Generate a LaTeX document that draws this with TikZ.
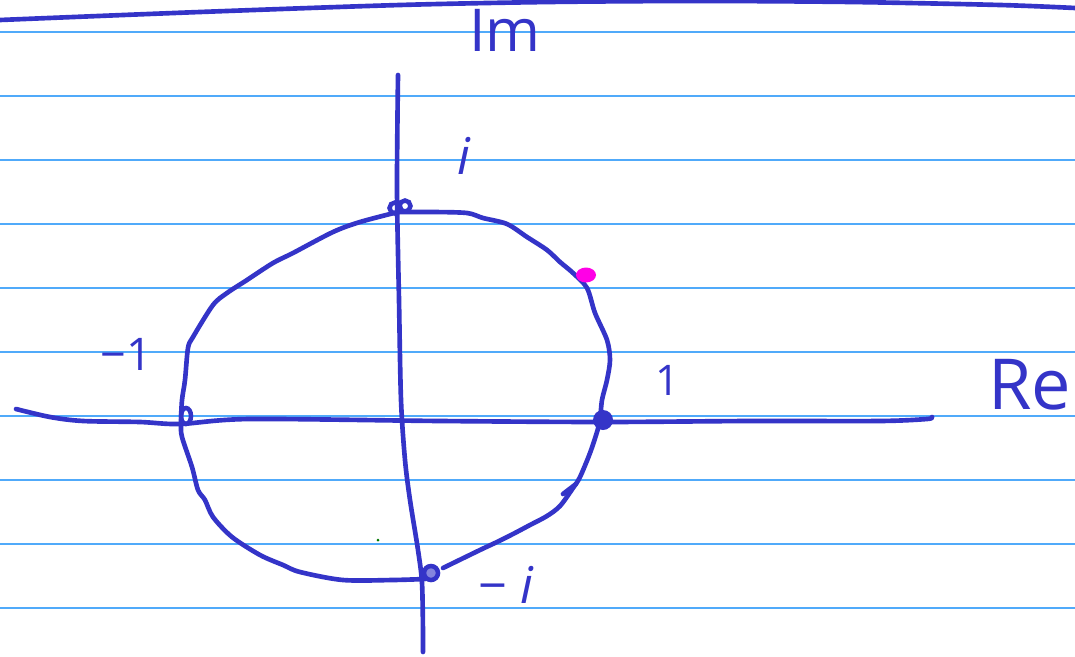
\documentclass[tikz,border=0pt]{standalone}
\usepackage{fontspec}
\setmainfont{Open Sans}
\usepackage{tikz}

\definecolor{pen}{RGB}{52,52,200}
\definecolor{ruling}{RGB}{80,170,250}
\definecolor{marker}{RGB}{255,0,230}
\definecolor{speck}{RGB}{0,120,0}

\begin{document}
\begin{tikzpicture}[
    x=0.025cm,
    y=-0.025cm,
    ruleline/.style={draw=ruling, line width=1.1pt},
    stroke/.style={draw=pen, line width=3.3pt, line cap=round, line join=round},
    loopmark/.style={draw=pen, line width=3.2pt},
    hand/.style={text=pen, inner sep=0pt, anchor=base}
  ]
    \fill[white] (0,0) rectangle (1075,656);
    \useasboundingbox (0,0) rectangle (1075,656);

    \foreach \y in {32,96,...,608} {
      \draw[ruleline] (0,\y) -- (1075,\y);
    }

    % margin stroke at the top
    \draw[stroke] plot[smooth] coordinates {(0,20) (200,12) (400,5) (550,2) (700,1) (850,2) (1000,5) (1075,8)};

    % axes
    \draw[stroke] plot[smooth] coordinates {(16,409) (50,417) (83,421) (140,422) (180,424) (250,419) (440,421) (603,422) (750,421) (880,421) (927,419) (932,417)};
    \draw[stroke] plot[smooth] coordinates {(398,75) (397,190) (399,300) (401,400) (405,460) (410,500) (418,550) (422,583) (423,633) (423,652)};

    % unit circle, drawn in two strokes
    \draw[stroke] plot[smooth] coordinates {(398,212) (433,212) (467,213) (483,218) (507,224) (527,237) (547,250) (560,262) (573,273) (587,288) (595,313) (607,340) (610,360) (607,380) (602,400) (600,420) (597,432) (590,453) (580,477) (573,488) (560,506) (547,516) (530,525) (513,534) (497,542) (480,550) (443,568)};
    \draw[stroke] (563,494) -- (576,484);
    \draw[stroke] plot[smooth] coordinates {(425,579) (393,580) (343,580) (300,572) (283,565) (260,555) (232,537) (213,517) (205,500) (198,490) (192,467) (182,437) (181,423) (182,400) (185,380) (188,348) (193,337) (213,305) (227,293) (247,280) (273,263) (293,253) (333,232) (360,222) (398,212)};

    % marked points
    \draw[loopmark] (395,208) circle [radius=5.5];
    \draw[loopmark] (405,206) circle [radius=5.5];
    \draw[loopmark] (186,416) ellipse [x radius=5, y radius=8];
    \draw[loopmark, fill=pen!60!white] (431,573) circle [radius=7];
    \fill[pen] (603,420) circle [radius=10];
    \fill[marker] (586,275) ellipse [x radius=10, y radius=7.5];
    \fill[speck] (378,540) circle [radius=1.5];

    % labels
    \node[hand, font=\fontsize{42}{42}\selectfont] (imlabel) at (505,52) {Im};
    \node[hand, anchor=base west, font=\fontsize{50}{50}\selectfont] (relabel) at (988,409) {Re};
    \node[hand, font=\fontsize{36}{36}\selectfont\itshape] (ilabel) at (464,175) {i};
    \node[hand, font=\fontsize{36}{36}\selectfont] (milabel) at (506,603) {− \textit{i}};
    \node[hand, font=\fontsize{30}{30}\selectfont] (onelabel) at (668,395) {1};
    \node[hand, font=\fontsize{32}{32}\selectfont] (monelabel) at (126,370) {−1};
  \end{tikzpicture}
\end{document}
